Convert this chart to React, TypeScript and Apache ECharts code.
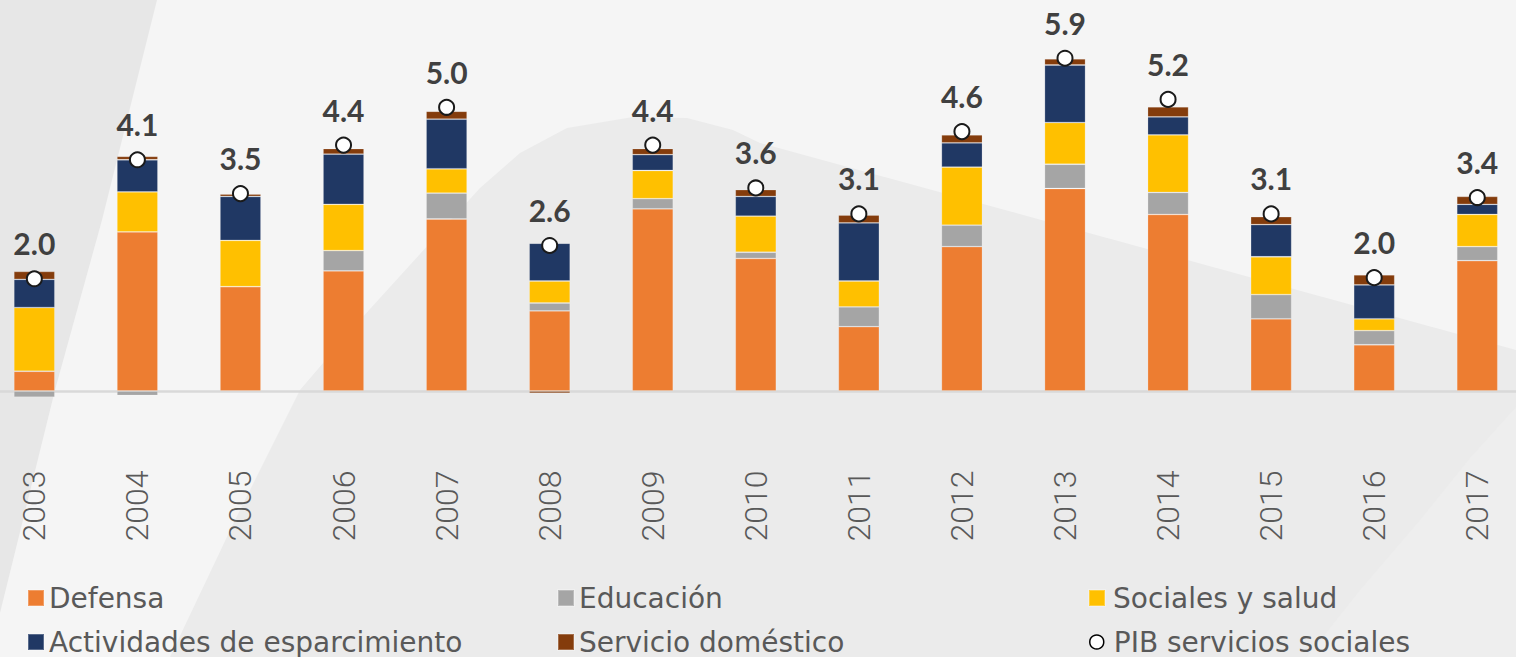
import React, { useEffect, useRef } from "react";
import * as echarts from "echarts";

const years = ["2003", "2004", "2005", "2006", "2007", "2008", "2009", "2010", "2011", "2012", "2013", "2014", "2015", "2016", "2017"];
const defensa = [0.35, 2.82, 1.85, 2.13, 3.05, 1.42, 3.23, 2.35, 1.14, 2.56, 3.59, 3.13, 1.28, 0.82, 2.31];
const educacion = [-0.11, -0.08, 0, 0.36, 0.46, 0.14, 0.18, 0.11, 0.35, 0.38, 0.43, 0.39, 0.43, 0.25, 0.25];
const sociales = [1.13, 0.71, 0.82, 0.82, 0.43, 0.39, 0.5, 0.64, 0.46, 1.03, 0.74, 1.02, 0.67, 0.21, 0.57];
const actividades = [0.5, 0.57, 0.78, 0.89, 0.88, 0.67, 0.28, 0.35, 1.03, 0.43, 1.02, 0.32, 0.57, 0.6, 0.18];
const servicio = [0.14, 0.06, 0.04, 0.1, 0.14, -0.04, 0.11, 0.12, 0.14, 0.14, 0.11, 0.18, 0.14, 0.18, 0.14];
const pib = [1.99, 4.1, 3.5, 4.36, 5.03, 2.58, 4.36, 3.6, 3.14, 4.6, 5.9, 5.17, 3.14, 2.01, 3.43];

const names = ["Defensa", "Educación", "Sociales y salud", "Actividades de esparcimiento", "Servicio doméstico", "PIB servicios sociales"];
const colors = ["#ED7D31", "#A5A5A5", "#FFC000", "#203864", "#843C0C"];

const OFF = 30; // div is shifted left by this many px

const leftStrip = [[0, 0], [157, 0], [102, 220], [55, 390], [0, 613]];
const hump = [
  [170, 657], [235, 520], [300, 390], [360, 320], [430, 243], [480, 188], [520, 153],
  [567, 128], [633, 117], [687, 118], [733, 130], [760, 143], [1140, 247], [1516, 350], [1516, 657],
];
const cornerLight = [[1307, 657], [1360, 590], [1420, 520], [1470, 458], [1516, 407], [1516, 657]];

function shift(pts: number[][]) {
  return pts.map(([x, y]) => [x + OFF, y]);
}

export default function App() {
  const ref = useRef<HTMLDivElement>(null);
  useEffect(() => {
    const chart = echarts.init(ref.current!, null, { renderer: "svg" });
    const barData = [defensa, educacion, sociales, actividades, servicio];
    const legendPos = [
      [27, 584], [557, 584], [1088, 584], [27, 628], [557, 628], [1089, 628],
    ];
    const option: any = {
      animation: false,
      backgroundColor: "#f5f5f5",
      graphic: {
        elements: [
          { type: "polygon", z: 0, silent: true, shape: { points: shift(leftStrip) }, style: { fill: "#e7e7e7" } },
          { type: "polygon", z: 0, silent: true, shape: { points: shift(hump) }, style: { fill: "#ebebeb" } },
          { type: "polygon", z: 0, silent: true, shape: { points: shift(cornerLight) }, style: { fill: "#eeeeee" } },
        ],
      },
      grid: { left: 12.8, top: 24.4, width: 1546, height: 423, containLabel: false },
      xAxis: {
        type: "category",
        data: years,
        axisTick: { show: false },
        axisLine: { show: true, onZero: true, lineStyle: { color: "#d9d9d9", width: 2.5 } },
        axisLabel: { rotate: 90, margin: 23, fontFamily: "Roboto", fontWeight: 300, fontSize: 32, color: "#595959" },
        splitLine: { show: false },
      },
      yAxis: {
        type: "value",
        min: -1,
        max: 6.5,
        show: false,
        splitLine: { show: false },
      },
      legend: names.map((n, i) => ({
        data: [i === 5 ? { name: n, icon: "circle" } : { name: n, icon: "rect" }],
        left: legendPos[i][0] + OFF,
        top: legendPos[i][1],
        padding: 0,
        itemWidth: i === 5 ? 14 : 16,
        itemHeight: i === 5 ? 14 : 16,
        itemGap: 5,
        textStyle: {
          fontFamily: "DejaVu Sans",
          fontSize: 28,
          color: "#595959",
          lineHeight: 28,
          padding: [0, 0, 0, i === 5 ? 5 : i === 2 ? 3 : 0],
        },
        selectedMode: false,
        ...(i === 5 ? { itemStyle: { color: "#ffffff", borderColor: "#000000", borderWidth: 1.5 } } : {}),
      })),
      series: [
        ...barData.map((d, i) => ({
          name: names[i],
          type: "bar",
          stack: "total",
          barWidth: 41,
          data: d,
          itemStyle: { color: colors[i], borderColor: "rgba(255,255,255,0.25)", borderWidth: 0.8 },
          emphasis: { disabled: true },
          z: 2,
        })),
        {
          name: names[5],
          type: "line",
          data: pib,
          symbol: "circle",
          symbolSize: 15,
          lineStyle: { width: 0, opacity: 0 },
          itemStyle: { color: "#ffffff", borderColor: "#1a1a1a", borderWidth: 2 },
          label: {
            show: true,
            position: "top",
            distance: 12,
            formatter: (p: any) => Number(p.value).toFixed(1),
            fontFamily: "Lato",
            fontWeight: "bold",
            fontSize: 30,
            lineHeight: 30,
            color: "#404040",
          },
          emphasis: { disabled: true },
          z: 5,
        },
      ],
    };
    chart.setOption(option);
    return () => chart.dispose();
  }, []);
  return (
    <div style={{ position: "fixed", left: 0, top: 0, width: 1516, height: 657, overflow: "hidden" }}>
      <div ref={ref} style={{ position: "absolute", left: -OFF, top: 0, width: 1580, height: 657 }} />
    </div>
  );
}
